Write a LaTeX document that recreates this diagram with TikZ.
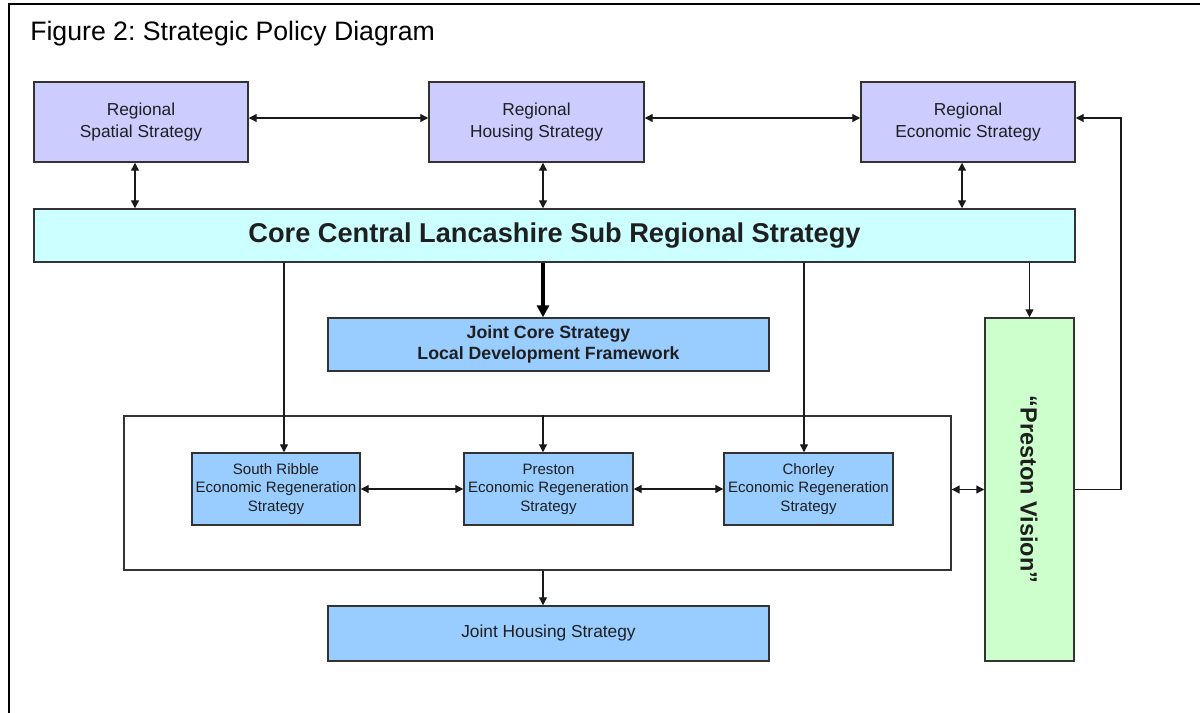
\documentclass[tikz,border=0pt]{standalone}
\usepackage{fontspec}
\setmainfont{Liberation Sans}
\usetikzlibrary{arrows.meta}
\frenchspacing

\definecolor{regfill}{HTML}{CCCCFF}
\definecolor{corefill}{HTML}{CCFFFF}
\definecolor{localfill}{HTML}{99CCFF}
\definecolor{visionfill}{HTML}{CCFFCC}
\definecolor{edge}{HTML}{333333}

% one drawing unit is 0.75pt; sizes below are given in those units
\newcommand\du[1]{#1*0.75pt}

\tikzset{
  box/.style={draw=edge, line width=1.1pt, inner sep=0pt, align=center, text=black!88},
  regbox/.style={box, fill=regfill, minimum width=\du{214}, minimum height=\du{80},
    font=\fontsize{13pt}{15.8pt}\selectfont},
  localbox/.style={box, fill=localfill, minimum width=\du{169}, minimum height=\du{72},
    font=\fontsize{11.3pt}{13.9pt}\selectfont},
  widebox/.style={box, fill=localfill, minimum width=\du{441}},
  link/.style={draw=black!90, line width=0.95pt},
  tip/.style={-{Triangle[length=6pt,width=6pt]}},
  twotip/.style={{Triangle[length=6pt,width=6pt]}-{Triangle[length=6pt,width=6pt]}},
}

\begin{document}
\begin{tikzpicture}[x=0.75pt, y=-0.75pt]
  \useasboundingbox (0,0) rectangle (1200,713);
  \fill[white] (0,0) rectangle (1200,713);

  % page frame: top and left rules
  \draw[line width=2.2pt] (1200,4) -- (9,4) -- (9,713);

  \node[anchor=base west, inner sep=0pt, font=\fontsize{20pt}{24pt}\selectfont] (title) at (30,41)
    {Figure 2: Strategic Policy Diagram};

  % regional strategies
  \node[regbox] (rss) at (141,122) {Regional\\Spatial Strategy};
  \node[regbox, minimum width=\du{215}] (rhs) at (536.5,122) {Regional\\Housing Strategy};
  \node[regbox] (res) at (968,122) {Regional\\Economic Strategy};

  % sub regional strategy
  \node[box, fill=corefill, minimum width=\du{1041}, minimum height=\du{53},
        font=\bfseries\fontsize{20.4pt}{24pt}\selectfont] (core) at (554.5,235.5)
    {Core Central Lancashire Sub Regional Strategy};

  \node[widebox, minimum height=\du{53}, font=\bfseries\fontsize{13.3pt}{15.8pt}\selectfont]
    (jcs) at (548.5,344.5) {Joint Core Strategy\\Local Development Framework};

  % group of district regeneration strategies
  \node[draw=edge, line width=1pt, minimum width=\du{827}, minimum height=\du{154}, inner sep=0pt]
    (grp) at (537.5,493) {};
  \node[localbox, minimum width=\du{168}] (sr) at (276,489)
    {South Ribble\\Economic Regeneration\\Strategy};
  \node[localbox] (pr) at (548.5,489) {Preston\\Economic Regeneration\\Strategy};
  \node[localbox] (ch) at (808.5,489) {Chorley\\Economic Regeneration\\Strategy};

  \node[widebox, minimum height=\du{55}, font=\fontsize{13pt}{15.6pt}\selectfont]
    (jhs) at (548.5,633.5) {Joint Housing Strategy};

  \node[box, fill=visionfill, minimum width=\du{89}, minimum height=\du{343}] (pv) at (1029.5,489.5) {};
  \node[rotate=-90, font=\bfseries\fontsize{17.6pt}{20pt}\selectfont, text=black!88]
    (pvtext) at (1029,489.5) {“Preston Vision”};

  % spine and column guides
  \coordinate (spine) at (543,0);
  \coordinate (srcol) at (284,0);
  \coordinate (chcol) at (804,0);
  \coordinate (loopcol) at (1121,0);

  % links between regional strategies
  \draw[link, twotip] ([yshift=3pt]rss.east) -- ([yshift=3pt]rhs.west);
  \draw[link, twotip] ([yshift=3pt]rhs.east) -- ([yshift=3pt]res.west);

  \draw[link, twotip] ([xshift=-4.5pt]rss.south) -- ([xshift=-4.5pt]rss.south |- core.north);
  \draw[link, twotip] (rhs.south -| spine) -- (core.north -| spine);
  \draw[link, twotip] ([xshift=-4.5pt]res.south) -- ([xshift=-4.5pt]res.south |- core.north);

  % from the sub regional strategy
  \draw[line width=2.4pt, -{Triangle[length=9pt,width=9pt]}] (core.south -| spine) -- (jcs.north -| spine);
  \draw[link, tip] (core.south -| srcol) -- (sr.north -| srcol);
  \draw[link, tip] (core.south -| chcol) -- (ch.north -| chcol);
  \draw[link, tip] (core.south -| pv.north) -- (pv.north);

  % within the district group
  \draw[link, tip] (grp.north -| spine) -- (pr.north -| spine);
  \draw[link, twotip] (sr.east) -- (pr.west);
  \draw[link, twotip] (pr.east) -- (ch.west);
  \draw[link, twotip] (grp.east |- pv.west) -- (pv.west);
  \draw[link, tip] (grp.south -| spine) -- (jhs.north -| spine);

  % feedback from Preston Vision to the economic strategy
  \draw[link, tip] (pv.east) -- (pv.east -| loopcol)
    -- ([yshift=3pt]res.east -| loopcol) -- ([yshift=3pt]res.east);
\end{tikzpicture}
\end{document}
